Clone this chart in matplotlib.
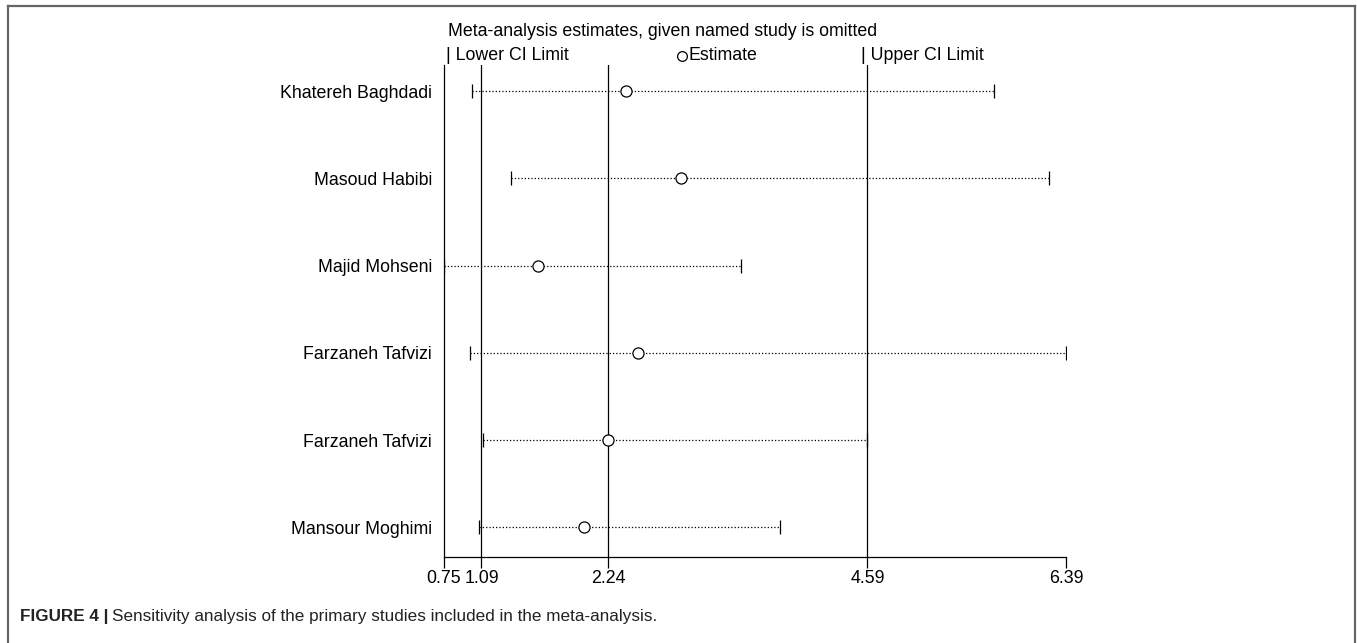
import matplotlib
matplotlib.use("Agg")
import matplotlib.pyplot as plt
from matplotlib.lines import Line2D

plt.rcParams['font.family'] = ['Liberation Sans', 'DejaVu Sans']

studies = ["Khatereh Baghdadi", "Masoud Habibi", "Majid Mohseni",
           "Farzaneh Tafvizi", "Farzaneh Tafvizi", "Mansour Moghimi"]
estimate = [2.40, 2.90, 1.60, 2.51, 2.24, 2.02]
lower = [1.005, 1.353, 0.75, 0.99, 1.10, 1.068]
upper = [5.74, 6.24, 3.44, 6.39, 4.585, 3.80]

pooled = [1.09, 2.24, 4.59]   # lower CI, estimate, upper CI
xticks = [0.75, 1.09, 2.24, 4.59, 6.39]
xticklabels = ["0.75", "1.09", "2.24", "4.59", "6.39"]

W, H = 1357, 643
fig = plt.figure(figsize=(W / 100, H / 100), dpi=100)
ax = fig.add_axes([444 / W, (H - 557) / H, 622 / W, (557 - 65) / H])

for v in pooled:
    ax.axvline(v, color='black', lw=0.9)

ys = list(range(len(studies)))
for y, lo, est, hi in zip(ys, lower, estimate, upper):
    ax.plot([lo, hi], [y, y], color='black', ls=':', lw=0.9)
    ax.plot([lo, hi], [y, y], ls='none', marker='|', ms=10, mew=0.9, color='black')
    ax.plot([est], [y], ls='none', marker='o', ms=8, mfc='white', mec='black', mew=0.9)

ax.set_xlim(0.75, 6.39)
ax.set_ylim(5.34, -0.3)
ax.set_xticks(xticks)
ax.set_xticklabels(xticklabels, fontsize=12.8)
ax.set_yticks(ys)
ax.set_yticklabels(studies, fontsize=12.8)
ax.tick_params(axis='y', length=0, pad=8.5)
ax.tick_params(axis='x', length=8, width=0.9, pad=1.5)
ax.spines['top'].set_visible(False)
ax.spines['right'].set_visible(False)
for s in ['left', 'bottom']:
    ax.spines[s].set_linewidth(0.9)


def fx(px):
    return px / W


def fy(py):
    return 1 - py / H


# header "legend"
fig.text(fx(448), fy(32), "Meta-analysis estimates, given named study is omitted",
         fontsize=12.8, va='center', ha='left')
fig.text(fx(446), fy(56), "| Lower CI Limit", fontsize=12.8, va='center', ha='left')
fig.add_artist(Line2D([fx(682)], [fy(56)], ls='none', marker='o', ms=7,
                      mfc='white', mec='black', mew=0.9))
fig.text(fx(688), fy(56), "Estimate", fontsize=12.8, va='center', ha='left')
fig.text(fx(861), fy(56), "| Upper CI Limit", fontsize=12.8, va='center', ha='left')

# frame around the figure panel
frame_col = '#666666'
fig.add_artist(Line2D([fx(8), fx(8)], [fy(6), 0], color=frame_col, lw=1.6))
fig.add_artist(Line2D([fx(8), fx(1355)], [fy(6), fy(6)], color=frame_col, lw=1.6))
fig.add_artist(Line2D([fx(1355), fx(1355)], [fy(6), 0], color=frame_col, lw=1.6))

# caption
cap1 = fig.text(fx(20), fy(617), "FIGURE 4 |", fontsize=12.3, fontweight='bold',
                va='center', ha='left', color='#222222')
fig.canvas.draw()
bb = cap1.get_window_extent()
fig.text((bb.x1 + 4) / W, fy(617),
         "Sensitivity analysis of the primary studies included in the meta-analysis.",
         fontsize=12.3, va='center', ha='left', color='#222222')

fig.savefig("out.png", dpi=100)
